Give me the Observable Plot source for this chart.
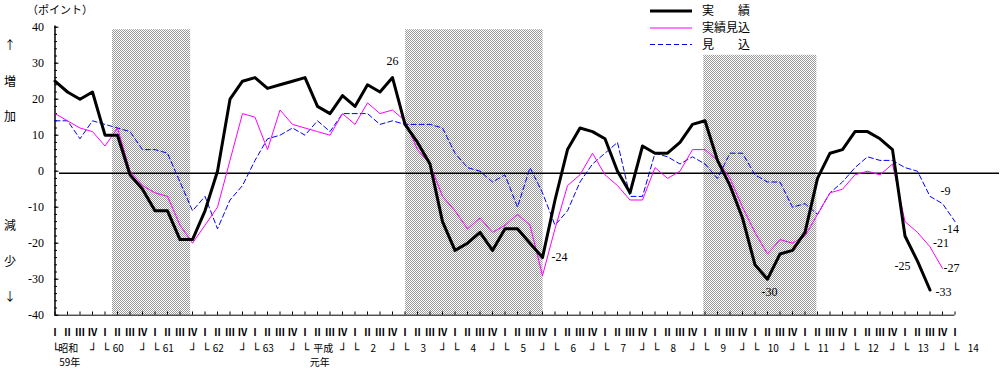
<!DOCTYPE html>
<html><head><meta charset="utf-8">
<script src="https://cdn.jsdelivr.net/npm/d3@7"></script>
<script src="https://cdn.jsdelivr.net/npm/@observablehq/plot@0.6"></script>
<style>
html,body{margin:0;padding:0;background:#fff;}
svg{overflow:visible}
</style>
</head><body><div id="chart"></div>
<script>
// ---- data ----
const quarterNames = ["Ⅰ","Ⅱ","Ⅲ","Ⅳ"];
const yearLabels = ["昭和","60","61","62","63","平成","2","3","4","5","6","7","8","9","10","11","12","13","14"];
const yearSubLabels = ["59年","","","","","元年"];
const yTicks = [40,30,20,10,0,-10,-20,-30,-40];
const seriesNames = ["実　　績","実績見込","見　　込"];

// 実績 (actual), 昭和59年Ⅰ .. 平成13年Ⅲ
const jisseki = [25,22,20,22,10,10,-1,-5,-11,-11,-19,-19,-11,0,20,25,26,23,24,25,
  26,18,16,21,18,24,22,26,13,8,2,-14,-22,-20,-17,-22,-16,-16,-20,-24,
  -8,6,12,11,9,0,-6,7,5,5,8,13,14,3,-4,-13,-26,-30,-23,-22,
  -17,-2,5,6,11,11,9,6,-18,-25,-33];
// 実績見込 (estimated actual), .. 平成13年Ⅳ
const jissekiMikomi = [16,14,12,11,7,12,0,-4,-6,-7,-15,-20,-15,-10,3,16,15,6,17,13,
  12,11,10,16,13,19,16,17,14,6,2,-7,-11,-16,-13,-17,-15,-12,-15,-29,
  -16,-4,-1,5,-1,-4,-8,-8,1,-2,0,6,6,3,-2,-10,-17,-23,-19,-20,
  -18,-12,-6,-5,-1,0,-1,2,-14,-17,-21,-27];
// 見込 (forecast), .. 平成14年Ⅰ
const mikomi = [14,14,9,14,13,12,11,6,6,5,-3,-11,-7,-16,-8,-4,3,9,10,12,
  10,14,11,16,16,16,13,14,13,13,13,12,5,1,0,-3,-1,-10,1,-6,
  -15,-11,-3,2,5,8,-7,-7,5,4,2,4,2,-2,5,5,-1,-3,-3,-10,
  -9,-12,-6,-3,1,4,3,3,1,0,-7,-9,-14];

// shaded periods (quarter index) and their tops
const shadeStart = [4.6, 28.05, 51.9];
const shadeEnd = [10.85, 39.05, 60.95];
const shadeTop = [39.3, 39.3, 32.2];

// labelled points
const labelled = [
  {s:0, q:27},{s:0, q:39},{s:0, q:57},{s:0, q:69},{s:0, q:70},
  {s:1, q:70},{s:1, q:71},{s:2, q:71},{s:2, q:72}
];

// ---- build ----
const allSeries = [jisseki, jissekiMikomi, mikomi];
const rows = allSeries.map((arr, s) => arr.map((v, q) => ({s, series: seriesNames[s], q, value: v})));
const quarterRows = d3.range(0, 4 * (yearLabels.length - 1) + 1).map(q => ({q, label: quarterNames[q % 4]}));
const yearRows = yearLabels.map((label, k) => ({k, q: 4 * k + 1.5, label, sub: yearSubLabels[k] || ""}));
const labelRows = labelled.map(d => ({...d, value: allSeries[d.s][d.q], text: String(allSeries[d.s][d.q])}));

const numFont = "'Liberation Serif', 'DejaVu Serif', serif";
const jpFont = "'Noto Sans CJK JP', sans-serif";
const monoFont = "'DejaVu Sans Mono', monospace";
const labelStyle = [
  {anchor:"middle", dx:0, dy:-16},
  {anchor:"start", dx:9, dy:0},
  {anchor:"middle", dx:2, dy:13},
  {anchor:"end", dx:-7, dy:5},
  {anchor:"start", dx:5.5, dy:2},
  {anchor:"start", dx:3, dy:-4},
  {anchor:"start", dx:1, dy:0},
  {anchor:"start", dx:-2, dy:-12},
  {anchor:"start", dx:-12, dy:8}
];
const colors = ["#000000", "#ff00ff", "#0000ff"];

const plot = Plot.plot({
  width: 1004, height: 371,
  marginLeft: 54.5, marginRight: 49.5, marginTop: 26.7, marginBottom: 56.3,
  x: {domain: [0, 72], axis: null},
  y: {domain: [-40, 40], axis: null},
  style: {background: "#fff", fontFamily: jpFont, fontSize: "11px", color: "#000", overflow: "visible"},
  marks: [
    Plot.rect(shadeStart.map((s, k) => ({x1: s, x2: shadeEnd[k], top: shadeTop[k]})),
      {x1: "x1", x2: "x2", y1: -40, y2: "top", fill: "#c8c8c7"}),
    Plot.ruleY([0], {x1: 0.36, x2: 75.56, dy: 2, stroke: "#000", strokeWidth: 1.5}),
    // y axis
    Plot.ruleX([0], {y1: -40, y2: 40.3, stroke: "#000", strokeWidth: 1.5}),
    Plot.ruleY(d3.range(-40, 41, 2), {x1: 0, x2: 0.2, stroke: "#000", strokeWidth: 1}),
    Plot.ruleY(yTicks, {x1: 0, x2: 0.32, stroke: "#000", strokeWidth: 1}),
    Plot.text(yTicks, {x: 0, y: d => d, text: d => String(d), dx: -11, textAnchor: "end", fontFamily: numFont, fontSize: 12}),
    // x axis
    Plot.ruleY([-40], {x1: 0, x2: 72, stroke: "#000", strokeWidth: 1}),
    Plot.ruleX(quarterRows, {x: "q", y1: -40, y2: -39.1, stroke: "#000", strokeWidth: 1}),
    Plot.text(quarterRows, {x: "q", y: -40, text: "label", dy: 17.5, fontSize: 10, fontWeight: "bold", fontFamily: jpFont}),
    Plot.text(yearRows.filter(d => d.k < 5), {x: "q", y: -40, text: "label", dx: -5.5, dy: 34, fontSize: 10, fontFamily: jpFont}),
    Plot.text(yearRows.filter(d => d.k >= 5), {x: "q", y: -40, text: "label", dx: -0.5, dy: 34, fontSize: 10, fontFamily: jpFont}),
    Plot.text(yearRows.filter(d => d.sub), {x: "q", y: -40, text: "sub", dx: -4, dy: 47.5, fontSize: 10, fontFamily: jpFont}),
    Plot.text(yearRows, {x: d => d.q - 1.5, y: -40, text: () => "└", dx: 0.5, dy: 34.5, fontSize: 12, fontFamily: monoFont}),
    Plot.text(yearRows.filter(d => d.k < yearLabels.length - 1), {x: d => d.q + 1.5, y: -40, text: () => "┘", dx: 1, dy: 34.5, fontSize: 12, fontFamily: monoFont}),
    // series
    Plot.line(rows[2], {x: "q", y: "value", stroke: colors[2], strokeWidth: 1, strokeDasharray: "5,3", strokeLinejoin: "miter", curve: "linear"}),
    Plot.line(rows[1], {x: "q", y: "value", stroke: colors[1], strokeWidth: 1, strokeLinejoin: "miter", curve: "linear"}),
    Plot.line(rows[0], {x: "q", y: "value", stroke: colors[0], strokeWidth: 3, strokeLinejoin: "round", curve: "linear"}),
    // point labels
    ...labelRows.map((d, j) => Plot.text([d], {x: "q", y: "value", text: "text",
      textAnchor: labelStyle[j].anchor, dx: labelStyle[j].dx, dy: labelStyle[j].dy,
      fontFamily: numFont, fontSize: 12}))
  ]
});

// checker pattern for shaded periods
const svg = d3.select(plot);
const defs = svg.insert("defs", ":first-child");
const pat = defs.append("pattern").attr("id", "chk").attr("patternUnits", "userSpaceOnUse").attr("width", 2).attr("height", 2);
pat.append("rect").attr("width", 2).attr("height", 2).attr("fill", "#ffffff");
pat.append("rect").attr("width", 1).attr("height", 1).attr("fill", "#999999");
pat.append("rect").attr("x", 1).attr("y", 1).attr("width", 1).attr("height", 1).attr("fill", "#999999");
svg.selectAll("[fill='#c8c8c7']").attr("fill", "url(#chk)");

// legend
const leg = svg.append("g").attr("font-family", "'Noto Sans CJK JP', sans-serif").attr("font-size", 12).attr("text-anchor", "start");
const legY = [11, 28, 44.5];
seriesNames.forEach((name, k) => {
  leg.append("line").attr("x1", 650).attr("x2", 692).attr("y1", legY[k]).attr("y2", legY[k])
    .attr("stroke", colors[k]).attr("stroke-width", k === 0 ? 3 : 1)
    .attr("stroke-dasharray", k === 2 ? "5,3" : null);
  leg.append("text").attr("x", 702).attr("y", legY[k]).attr("dy", "0.35em").text(name);
});

// side annotations
const side = svg.append("g").attr("font-family", "'Noto Sans CJK JP', sans-serif").attr("font-size", 12).attr("text-anchor", "middle");
[["↑", 46], ["増", 82], ["加", 117], ["減", 226], ["少", 262], ["↓", 297]].forEach(([t, y]) => {
  side.append("text").attr("x", 10).attr("y", y).attr("dy", "0.35em").text(t);
});
svg.append("text").attr("x", 27).attr("y", 10).attr("dy", "0.35em").attr("text-anchor", "start")
  .attr("font-family", "'Noto Sans CJK JP', sans-serif").attr("font-size", 11).text("（ポイント）");

document.getElementById("chart").appendChild(plot);
</script>
</body></html>
